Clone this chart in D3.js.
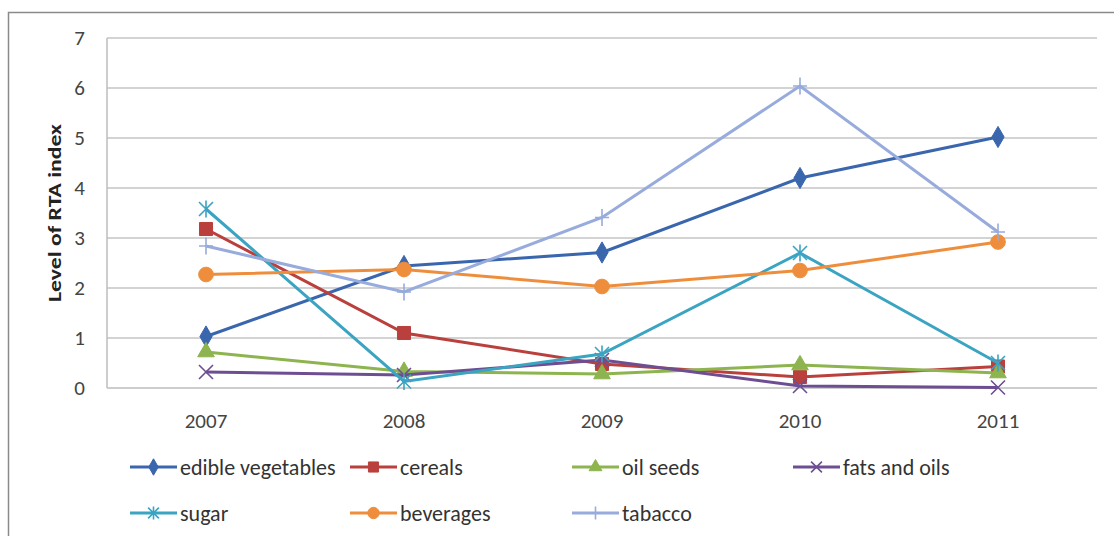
<!DOCTYPE html>
<html><head><meta charset="utf-8">
<script src="https://cdn.jsdelivr.net/npm/d3@7"></script>
<style>body{margin:0;background:#fff;} svg{display:block;font-family:Carlito,Lato,"Open Sans",sans-serif;}</style>
</head><body><svg id="c" width="1114" height="536"></svg>
<script>
const years = ["2007","2008","2009","2010","2011"];
const yTicks = [0,1,2,3,4,5,6,7];
const seriesNames = ["edible vegetables","cereals","oil seeds","fats and oils","sugar","beverages","tabacco"];
const edibleVegetables = [1.03, 2.44, 2.71, 4.2, 5.02];
const cereals = [3.18, 1.1, 0.48, 0.22, 0.43];
const oilSeeds = [0.72, 0.33, 0.28, 0.46, 0.3];
const fatsAndOils = [0.32, 0.26, 0.56, 0.04, 0.01];
const sugar = [3.58, 0.13, 0.68, 2.7, 0.5];
const beverages = [2.27, 2.37, 2.03, 2.35, 2.92];
const tabacco = [2.84, 1.92, 3.41, 6.04, 3.12];
const seriesValues = [edibleVegetables, cereals, oilSeeds, fatsAndOils, sugar, beverages, tabacco];
const colors = ["#3A66AE","#B9403C","#8DB44E","#6E4E92","#3AA4C2","#EE8E3C","#97ABDC"];
const markers = ["diamond","square","triangle","x","star","circle","plus"];

const svg = d3.select("#c");
// frame
svg.append("path").attr("d","M8.5,536 V12.5 H1114").attr("fill","none").attr("stroke","#8a8a8a").attr("stroke-width",1.5);

const x = d3.scaleBand().domain(years).range([107,1097]);
const y = d3.scaleLinear().domain([0,7]).range([388,38]);

// gridlines
svg.append("g").selectAll("line").data(yTicks.filter(d=>d>0)).join("line")
  .attr("x1",107).attr("x2",1097).attr("y1",d=>y(d)).attr("y2",d=>y(d))
  .attr("stroke","#c4c4c4").attr("stroke-width",1.5);
// axes lines
svg.append("line").attr("x1",107).attr("x2",107).attr("y1",38).attr("y2",388).attr("stroke","#bdbdbd").attr("stroke-width",1.5);
svg.append("line").attr("x1",107).attr("x2",1097).attr("y1",388).attr("y2",388).attr("stroke","#bdbdbd").attr("stroke-width",1.5);

// y tick labels
svg.append("g").selectAll("text").data(yTicks).join("text")
  .attr("x",85).attr("y",d=>y(d)).attr("dy","0.35em").attr("text-anchor","end")
  .attr("font-size",21).attr("fill","#444").text(d=>d);
// x tick labels
svg.append("g").selectAll("text").data(years).join("text")
  .attr("x",d=>x(d)+x.bandwidth()/2).attr("y",428).attr("text-anchor","middle")
  .attr("font-size",21).attr("fill","#444").text(d=>d);
// y title
svg.append("text").attr("transform","translate(61,213) rotate(-90)").attr("text-anchor","middle")
  .attr("font-size",18).attr("font-weight","bold").attr("fill","#222")
  .attr("textLength",178).attr("lengthAdjust","spacingAndGlyphs").text("Level of RTA index");

function marker(g, type, color, s){
  const sym = {diamond:d3.symbolDiamond, square:d3.symbolSquare, triangle:d3.symbolTriangle, circle:d3.symbolCircle};
  if (sym[type]) {
    const size = {diamond:130, square:170, triangle:120, circle:170}[type]*s;
    g.append("path").attr("d", d3.symbol().type(sym[type]).size(size)()).attr("fill",color).attr("stroke",color).attr("stroke-width",1);
  } else {
    const r = 7*Math.sqrt(s);
    let d = "";
    if (type==="x"||type==="star") d += `M${-r},${-r}L${r},${r}M${-r},${r}L${r},${-r}`;
    if (type==="star") d += `M0,${-r*1.2}V${r*1.2}`;
    if (type==="plus") d += `M${-r},0H${r}M0,${-r*1.2}V${r*1.2}`;
    g.append("path").attr("d",d).attr("stroke",color).attr("stroke-width",1.6).attr("fill","none");
  }
}

const line = d3.line().x((d,i)=>x(years[i])+x.bandwidth()/2).y(d=>y(d));
seriesValues.forEach((vals,k)=>{
  const g = svg.append("g");
  g.append("path").attr("d",line(vals)).attr("fill","none").attr("stroke",colors[k]).attr("stroke-width",3);
  vals.forEach((v,i)=>{
    const m = g.append("g").attr("transform",`translate(${x(years[i])+x.bandwidth()/2},${y(v)})`);
    marker(m, markers[k], colors[k], 1);
  });
});

// legend
const legX = [130,350,572,793];
const legY = [467,513];
seriesNames.forEach((n,k)=>{
  const lx = legX[k%4], ly = legY[Math.floor(k/4)];
  const g = svg.append("g").attr("transform",`translate(${lx},${ly})`);
  g.append("line").attr("x1",0).attr("x2",47).attr("y1",0).attr("y2",0).attr("stroke",colors[k]).attr("stroke-width",3);
  const m = g.append("g").attr("transform","translate(23.5,0)");
  marker(m, markers[k], colors[k], 0.6);
  g.append("text").attr("x",50).attr("y",0).attr("dy","0.35em").attr("font-size",22).attr("fill","#333").text(n);
});
</script></body></html>
